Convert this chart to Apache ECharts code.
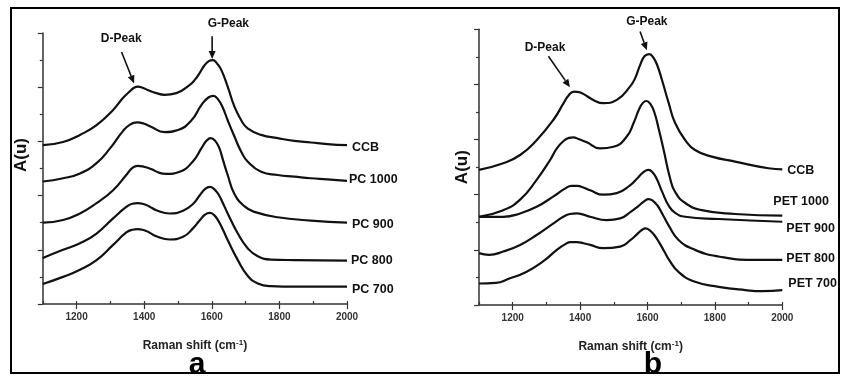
<!DOCTYPE html>
<html><head><meta charset="utf-8">
<script src="https://cdn.jsdelivr.net/npm/echarts@6/dist/echarts.min.js"></script>
<style>html,body{margin:0;padding:0;background:#fff}#c{width:843px;height:383px}</style>
</head><body><div id="c"></div>
<script>
// ---- tick labels ----
const xTickValues = [1200, 1400, 1600, 1800, 2000];

// ---- panel a : series names ----
const namesA = ['CCB', 'PC 1000', 'PC 900', 'PC 800', 'PC 700'];
// [Raman shift, A(u)]
const aCCB = [[1100,2.93],[1160,2.99],[1210,3.12],[1259,3.30],[1308,3.58],[1337,3.80],[1357,3.92],[1370,3.99],[1382,4.01],[1395,3.99],[1410,3.95],[1436,3.89],[1460,3.86],[1495,3.89],[1534,4.04],[1549,4.13],[1564,4.26],[1578,4.40],[1591,4.48],[1603,4.50],[1615,4.44],[1628,4.32],[1647,4.01],[1667,3.64],[1687,3.39],[1706,3.24],[1746,3.12],[1795,3.06],[1844,3.01],[1893,2.98],[1942,2.95],[2000,2.93]];
const aPC1000 = [[1100,2.26],[1160,2.32],[1210,2.41],[1259,2.60],[1300,2.88],[1337,3.19],[1358,3.31],[1379,3.35],[1398,3.33],[1420,3.27],[1460,3.17],[1500,3.21],[1540,3.39],[1570,3.68],[1590,3.81],[1605,3.84],[1618,3.78],[1632,3.63],[1647,3.39],[1667,3.09],[1687,2.81],[1706,2.63],[1746,2.44],[1795,2.38],[1844,2.35],[1893,2.32],[1942,2.30],[2000,2.27]];
const aPC900 = [[1100,1.50],[1160,1.55],[1210,1.67],[1259,1.86],[1308,2.10],[1347,2.38],[1365,2.51],[1380,2.55],[1395,2.54],[1420,2.49],[1445,2.42],[1465,2.40],[1505,2.44],[1544,2.63],[1570,2.88],[1584,3.01],[1597,3.06],[1610,3.01],[1622,2.88],[1633,2.66],[1647,2.38],[1667,2.03],[1697,1.80],[1726,1.70],[1795,1.60],[1893,1.54],[2000,1.50]];
const aPC800 = [[1100,0.85],[1160,1.00],[1210,1.12],[1259,1.30],[1308,1.58],[1347,1.79],[1365,1.85],[1380,1.86],[1395,1.85],[1415,1.80],[1436,1.73],[1475,1.67],[1515,1.72],[1545,1.85],[1565,2.01],[1580,2.12],[1594,2.16],[1607,2.12],[1620,2.02],[1633,1.86],[1647,1.67],[1677,1.30],[1706,1.03],[1736,0.88],[1775,0.82],[1844,0.81],[2000,0.80]];
const aPC700 = [[1100,0.37],[1160,0.50],[1210,0.63],[1259,0.81],[1308,1.09],[1347,1.32],[1365,1.37],[1380,1.38],[1395,1.37],[1415,1.32],[1436,1.25],[1475,1.19],[1515,1.24],[1545,1.40],[1565,1.55],[1580,1.65],[1594,1.68],[1607,1.64],[1620,1.53],[1633,1.37],[1647,1.18],[1677,0.81],[1706,0.52],[1736,0.38],[1775,0.33],[1844,0.32],[2000,0.32]];

// ---- panel b ----
const namesB = ['CCB', 'PET 1000', 'PET 900', 'PET 800', 'PET 700'];
const bCCB = [[1100,2.45],[1172,2.57],[1222,2.72],[1271,2.99],[1321,3.36],[1351,3.66],[1367,3.81],[1382,3.87],[1397,3.86],[1412,3.82],[1439,3.72],[1469,3.66],[1509,3.72],[1548,3.96],[1563,4.11],[1578,4.35],[1591,4.51],[1605,4.55],[1618,4.48],[1630,4.33],[1643,4.08],[1663,3.66],[1682,3.30],[1712,2.99],[1741,2.81],[1791,2.69],[1860,2.60],[1959,2.48],[2000,2.46]];
const bPET1000 = [[1100,1.60],[1172,1.72],[1222,1.91],[1271,2.27],[1311,2.63],[1331,2.84],[1350,2.97],[1367,3.03],[1380,3.04],[1395,3.01],[1420,2.95],[1459,2.84],[1499,2.87],[1538,3.05],[1560,3.32],[1575,3.55],[1587,3.67],[1597,3.70],[1608,3.65],[1620,3.50],[1633,3.20],[1648,2.81],[1667,2.30],[1682,2.05],[1712,1.85],[1761,1.72],[1860,1.65],[2000,1.62]];
const bPET900 = [[1100,1.60],[1172,1.60],[1222,1.66],[1271,1.78],[1321,1.97],[1355,2.11],[1375,2.16],[1392,2.16],[1410,2.13],[1430,2.08],[1469,2.00],[1509,2.03],[1548,2.17],[1570,2.30],[1588,2.41],[1603,2.45],[1616,2.40],[1628,2.28],[1643,2.06],[1663,1.80],[1682,1.67],[1712,1.60],[1811,1.56],[2000,1.51]];
const bPET800 = [[1100,0.94],[1130,0.91],[1172,0.97],[1222,1.09],[1271,1.27],[1321,1.48],[1350,1.60],[1370,1.65],[1390,1.66],[1410,1.64],[1430,1.60],[1479,1.54],[1519,1.57],[1550,1.69],[1572,1.79],[1590,1.88],[1603,1.92],[1616,1.89],[1630,1.80],[1645,1.64],[1663,1.44],[1692,1.18],[1741,1.00],[1811,0.88],[1910,0.82],[2000,0.82]];
const bPET700 = [[1100,0.39],[1150,0.40],[1190,0.48],[1240,0.60],[1290,0.79],[1331,1.00],[1355,1.10],[1372,1.14],[1390,1.14],[1410,1.12],[1430,1.09],[1469,1.03],[1519,1.06],[1550,1.18],[1570,1.29],[1583,1.36],[1594,1.39],[1606,1.36],[1620,1.27],[1635,1.13],[1650,0.97],[1665,0.81],[1692,0.60],[1741,0.42],[1811,0.33],[1890,0.27],[1940,0.25],[2000,0.27]];

// ---- peak annotations (data coordinates) ----
const annA = [
  {text:'D-Peak', at:[1332,4.89], from:[1333,4.65], to:[1370,4.07]},
  {text:'G-Peak', at:[1649,5.18], from:[1601,4.94], to:[1601,4.52]}
];
const annB = [
  {text:'D-Peak', at:[1296,4.66], from:[1306,4.51], to:[1370,3.95]},
  {text:'G-Peak', at:[1598,5.13], from:[1578,4.96], to:[1598,4.62]}
];

const chart = echarts.init(document.getElementById('c'), null, {renderer:'canvas'});
const FONT = 'Liberation Sans, Arial, sans-serif';
const AXC = '#333';

function xAxes(grid) {
  return [{
    gridIndex: grid, type:'value', min:1100, max:2000,
    axisLine:{show:true, onZero:false, lineStyle:{color:AXC, width:1.5}},
    axisTick:{show:true, customValues:xTickValues, length:5, lineStyle:{color:AXC, width:1.2}},
    axisLabel:{show:true, customValues:xTickValues, formatter:v => String(v), fontSize:10, fontWeight:'bold', color:'#333', fontFamily:FONT, margin:8},
    splitLine:{show:false},
    name:'Raman shift (cm{s|-1})', nameLocation:'middle', nameGap:35,
    nameTextStyle:{fontSize:12, fontWeight:'bold', color:'#222', fontFamily:FONT,
      rich:{s:{fontSize:8, fontWeight:'bold', color:'#222', fontFamily:FONT, verticalAlign:'top', padding:[0,0,6,0]}}}
  },{
    gridIndex: grid, type:'value', min:1100, max:2000, interval:100,
    axisLine:{show:false}, axisLabel:{show:false}, splitLine:{show:false},
    axisTick:{show:true, length:3, lineStyle:{color:AXC, width:1.2}}
  }];
}
function yAxis(grid, pad) {
  return {
    gridIndex: grid, type:'value', min:0, max:5, interval:1,
    axisLine:{show:true, onZero:false, lineStyle:{color:AXC, width:1.5}},
    axisTick:{show:true, length:5, lineStyle:{color:AXC, width:1.2}},
    minorTick:{show:true, splitNumber:2, length:3, lineStyle:{color:AXC, width:1.2}},
    axisLabel:{show:false}, splitLine:{show:false}, minorSplitLine:{show:false},
    name:'A(u)', nameLocation:'middle', nameGap: grid === 0 ? 13 : 8,
    nameTextStyle:{fontSize:17, fontWeight:'bold', color:'#111', fontFamily:FONT, padding:pad}
  };
}
function line(name, data, xi, yi, off) {
  return {
    name, type:'line', data, xAxisIndex:xi, yAxisIndex:yi,
    showSymbol:false, smooth:0.5, silent:true, animation:false,
    lineStyle:{color:'#111', width:2.2},
    endLabel:{show:true, formatter:name, offset:off, distance:5,
      fontSize:12.5, fontWeight:'bold', color:'#111', fontFamily:FONT}
  };
}

chart.setOption({
  animation:false,
  backgroundColor:'#fff',
  grid:[
    {left:42.8, top:33, width:304.2, height:271},
    {left:479, top:29.3, width:303.3, height:275.7}
  ],
  xAxis:[...xAxes(0), ...xAxes(1)],
  yAxis:[yAxis(0,[0,0,0,27]), yAxis(1,[0,0,0,0])],
  series:[
    line(namesA[0], aCCB, 0, 0, [0,2]),
    line(namesA[1], aPC1000, 0, 0, [-3,-1]),
    line(namesA[2], aPC900, 0, 0, [0,2]),
    line(namesA[3], aPC800, 0, 0, [-1,0]),
    line(namesA[4], aPC700, 0, 0, [0,3]),
    line(namesB[0], bCCB, 2, 1, [0,1]),
    line(namesB[1], bPET1000, 2, 1, [-14,-14]),
    line(namesB[2], bPET900, 2, 1, [-1,7]),
    line(namesB[3], bPET800, 2, 1, [-1,-1]),
    line(namesB[4], bPET700, 2, 1, [1,-7])
  ]
});

// annotations placed through the grids' own scales
const g = [];
g.push({type:'rect', shape:{x:11, y:8, width:828, height:365}, style:{fill:'none', stroke:'#000', lineWidth:2}, silent:true});
g.push({type:'text', style:{text:'a', x:197, y:365, fontSize:30, fontWeight:'bold', fill:'#000', fontFamily:FONT, align:'center', verticalAlign:'middle'}});
g.push({type:'text', style:{text:'b', x:653, y:365, fontSize:30, fontWeight:'bold', fill:'#000', fontFamily:FONT, align:'center', verticalAlign:'middle'}});

function addAnn(list, gi) {
  list.forEach(a => {
    const t = chart.convertToPixel({gridIndex:gi}, a.at);
    const p0 = chart.convertToPixel({gridIndex:gi}, a.from);
    const p1 = chart.convertToPixel({gridIndex:gi}, a.to);
    g.push({type:'text', style:{text:a.text, x:t[0], y:t[1], fontSize:12, fontWeight:'bold', fill:'#111', fontFamily:FONT, align:'center', verticalAlign:'middle'}});
    const dx = p1[0]-p0[0], dy = p1[1]-p0[1], L = Math.hypot(dx,dy);
    const ux = dx/L, uy = dy/L, hl = 8, hw = 3.5;
    const bx = p1[0]-ux*hl, by = p1[1]-uy*hl;
    g.push({type:'line', shape:{x1:p0[0], y1:p0[1], x2:bx, y2:by}, style:{stroke:'#111', lineWidth:1.6}});
    g.push({type:'polygon', shape:{points:[[p1[0],p1[1]],[bx-uy*hw, by+ux*hw],[bx+uy*hw, by-ux*hw]]}, style:{fill:'#111'}});
  });
}
addAnn(annA, 0);
addAnn(annB, 1);
chart.setOption({graphic:g});
</script>
</body></html>
